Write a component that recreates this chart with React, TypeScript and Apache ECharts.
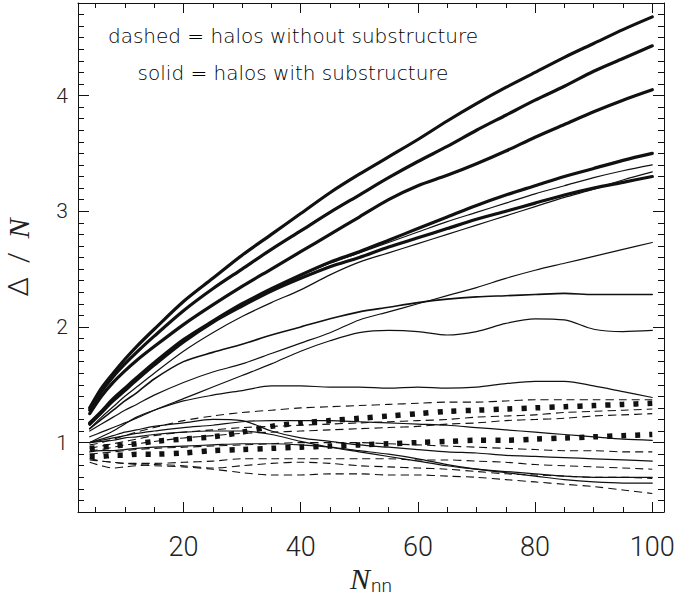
import React, { useEffect, useRef } from "react";
import * as echarts from "echarts";

// Nearest-neighbour count samples
const XS = [4, 6, 8, 10, 12, 15, 20, 25, 30, 35, 40, 45, 50, 55, 60, 65, 70, 75, 80, 85, 90, 95, 100];

// Thick solid (halos with substructure)
const A = [1.30, 1.47, 1.60, 1.72, 1.83, 1.98, 2.22, 2.42, 2.62, 2.80, 2.98, 3.16, 3.32, 3.47, 3.62, 3.78, 3.93, 4.07, 4.20, 4.33, 4.45, 4.57, 4.68];
const B = [1.28, 1.44, 1.57, 1.68, 1.78, 1.92, 2.14, 2.33, 2.50, 2.67, 2.83, 2.99, 3.14, 3.29, 3.43, 3.56, 3.70, 3.83, 3.96, 4.08, 4.21, 4.32, 4.43];
const C = [1.25, 1.40, 1.52, 1.62, 1.71, 1.83, 2.02, 2.19, 2.35, 2.50, 2.65, 2.80, 2.95, 3.10, 3.22, 3.31, 3.41, 3.52, 3.64, 3.75, 3.86, 3.96, 4.05];
const D = [1.17, 1.27, 1.38, 1.47, 1.56, 1.69, 1.89, 2.05, 2.20, 2.33, 2.45, 2.56, 2.65, 2.75, 2.85, 2.95, 3.05, 3.14, 3.22, 3.30, 3.37, 3.44, 3.50];
const E = [1.16, 1.26, 1.36, 1.45, 1.54, 1.67, 1.87, 2.04, 2.18, 2.31, 2.42, 2.52, 2.60, 2.69, 2.77, 2.85, 2.93, 3.00, 3.07, 3.14, 3.20, 3.25, 3.30];
// Thin solid
const F = [1.15, 1.25, 1.36, 1.45, 1.54, 1.67, 1.87, 2.04, 2.19, 2.32, 2.44, 2.55, 2.64, 2.73, 2.82, 2.91, 2.99, 3.07, 3.15, 3.22, 3.29, 3.35, 3.40];
const G = [1.12, 1.22, 1.31, 1.40, 1.48, 1.60, 1.79, 1.95, 2.09, 2.21, 2.32, 2.45, 2.56, 2.64, 2.72, 2.80, 2.88, 2.96, 3.04, 3.12, 3.19, 3.27, 3.34];
const H = [1.10, 1.16, 1.22, 1.28, 1.33, 1.41, 1.52, 1.61, 1.68, 1.77, 1.86, 1.95, 2.06, 2.13, 2.20, 2.27, 2.34, 2.42, 2.49, 2.55, 2.61, 2.67, 2.73];
const I = [1.12, 1.20, 1.28, 1.36, 1.43, 1.55, 1.70, 1.78, 1.85, 1.93, 2.00, 2.07, 2.13, 2.17, 2.21, 2.24, 2.26, 2.27, 2.28, 2.29, 2.28, 2.28, 2.28];
const J = [1.05, 1.09, 1.13, 1.17, 1.21, 1.28, 1.38, 1.48, 1.58, 1.68, 1.79, 1.88, 1.95, 1.97, 1.96, 1.93, 1.96, 2.03, 2.07, 2.06, 1.98, 1.96, 1.97];
const K = [1.00, 1.05, 1.10, 1.16, 1.22, 1.28, 1.36, 1.41, 1.45, 1.49, 1.49, 1.48, 1.48, 1.47, 1.48, 1.47, 1.48, 1.51, 1.53, 1.53, 1.49, 1.44, 1.39];
const S1 = [1.00, 1.02, 1.04, 1.06, 1.08, 1.10, 1.13, 1.15, 1.18, 1.19, 1.19, 1.19, 1.18, 1.17, 1.16, 1.15, 1.13, 1.11, 1.09, 1.07, 1.05, 1.03, 1.02];
const S2 = [1.00, 1.03, 1.06, 1.09, 1.11, 1.14, 1.17, 1.20, 1.19, 1.10, 1.04, 1.01, 0.98, 0.96, 0.94, 0.92, 0.91, 0.89, 0.88, 0.87, 0.86, 0.85, 0.84];
const S3 = [1.00, 1.01, 1.02, 1.04, 1.05, 1.07, 1.09, 1.10, 1.10, 1.07, 1.01, 0.96, 0.92, 0.88, 0.84, 0.80, 0.77, 0.75, 0.73, 0.71, 0.70, 0.70, 0.70];
const S4 = [0.92, 0.93, 0.93, 0.94, 0.95, 0.96, 0.97, 0.98, 0.99, 0.99, 0.98, 0.96, 0.93, 0.90, 0.86, 0.81, 0.77, 0.74, 0.71, 0.68, 0.66, 0.65, 0.65];
// Thick dotted
const T1 = [0.95, 0.96, 0.97, 0.98, 0.99, 1.01, 1.03, 1.05, 1.09, 1.14, 1.17, 1.19, 1.21, 1.23, 1.25, 1.27, 1.28, 1.29, 1.30, 1.31, 1.32, 1.33, 1.34];
const T2 = [0.88, 0.88, 0.89, 0.89, 0.90, 0.90, 0.91, 0.93, 0.94, 0.95, 0.96, 0.97, 0.98, 0.99, 1.00, 1.01, 1.02, 1.02, 1.03, 1.04, 1.05, 1.06, 1.07];
// Thin dashed (halos without substructure)
const Da = [0.98, 1.00, 1.03, 1.06, 1.09, 1.13, 1.19, 1.23, 1.26, 1.28, 1.30, 1.31, 1.32, 1.33, 1.34, 1.35, 1.35, 1.36, 1.37, 1.37, 1.37, 1.37, 1.37];
const Db = [0.95, 0.97, 0.99, 1.01, 1.03, 1.06, 1.09, 1.11, 1.13, 1.14, 1.15, 1.16, 1.17, 1.18, 1.19, 1.20, 1.22, 1.23, 1.24, 1.26, 1.27, 1.28, 1.29];
const Dc = [0.93, 0.94, 0.96, 0.98, 0.99, 1.01, 1.04, 1.06, 1.08, 1.09, 1.10, 1.11, 1.12, 1.13, 1.14, 1.16, 1.17, 1.19, 1.20, 1.21, 1.23, 1.24, 1.25];
const Dd = [0.90, 0.91, 0.92, 0.93, 0.94, 0.95, 0.96, 0.97, 0.98, 0.99, 1.00, 1.00, 1.00, 0.99, 0.98, 0.97, 0.96, 0.95, 0.94, 0.93, 0.93, 0.92, 0.92];
const De = [0.85, 0.84, 0.83, 0.82, 0.82, 0.82, 0.83, 0.84, 0.86, 0.86, 0.86, 0.86, 0.86, 0.86, 0.85, 0.85, 0.84, 0.83, 0.81, 0.80, 0.79, 0.78, 0.77];
const Df = [0.83, 0.80, 0.78, 0.79, 0.80, 0.81, 0.80, 0.78, 0.80, 0.82, 0.83, 0.82, 0.80, 0.79, 0.78, 0.77, 0.75, 0.73, 0.72, 0.71, 0.70, 0.70, 0.69];
const Dg = [0.86, 0.84, 0.83, 0.82, 0.81, 0.80, 0.79, 0.77, 0.74, 0.72, 0.72, 0.73, 0.73, 0.72, 0.72, 0.71, 0.70, 0.68, 0.66, 0.64, 0.62, 0.59, 0.56];

const THICK = [A, B, C, D, E];
const THIN = [F, G, H, J, K, S1, S2, S3, S4];
const MEDIUM = [I];
const DOTTED = [T1, T2];
const DASHED = [Da, Db, Dc, Dd, De, Df, Dg];

const X_MAJOR = [20, 40, 60, 80, 100];
const X_MINOR = [5, 10, 15, 25, 30, 35, 45, 50, 55, 65, 70, 75, 85, 90, 95];
const Y_MAJOR = [1, 2, 3, 4];
const Y_MINOR = [0.5, 0.6, 0.7, 0.8, 0.9, 1.1, 1.2, 1.3, 1.4, 1.5, 1.6, 1.7, 1.8, 1.9, 2.1, 2.2, 2.3, 2.4, 2.5, 2.6, 2.7, 2.8, 2.9, 3.1, 3.2, 3.3, 3.4, 3.5, 3.6, 3.7, 3.8, 3.9, 4.1, 4.2, 4.3, 4.4, 4.5, 4.6, 4.7];

const NOTE_1 = "dashed = halos without substructure";
const NOTE_2 = "solid = halos with substructure";

const INK = "#111";
const TXT = "#222";

function pts(v: number[]) {
  return XS.map((x, i) => [x, v[i]]);
}

export default function App() {
  const ref = useRef<HTMLDivElement>(null);
  useEffect(() => {
    if (!ref.current) return;
    const chart = echarts.init(ref.current, undefined, { renderer: "svg" });
    const line = { lineStyle: { color: INK, width: 1 } };
    const xBase = { type: "value", min: 2, max: 102, gridIndex: 0, offset: 0, splitLine: { show: false } } as any;
    const yBase = { type: "value", min: 0.4, max: 4.8, gridIndex: 0, offset: 0, splitLine: { show: false } } as any;
    const series: any[] = [];
    const add = (v: number[], width: number, type: any, cap = "round") => {
      series.push({
        type: "line",
        data: pts(v),
        showSymbol: false,
        smooth: 0.3,
        lineStyle: { color: INK, width, type, cap, join: "round" },
        silent: true,
      });
    };
    THICK.forEach((v) => add(v, 3.2, "solid"));
    MEDIUM.forEach((v) => add(v, 1.6, "solid"));
    THIN.forEach((v) => add(v, 1.2, "solid"));
    DOTTED.forEach((v) => add(v, 5.5, [5, 9], "butt"));
    DASHED.forEach((v) => add(v, 1.1, [8, 5], "butt"));

    chart.setOption({
      animation: false,
      backgroundColor: "#fff",
      grid: { left: 78, top: 3, width: 586, height: 509, containLabel: false, outerBoundsMode: "none" },
      xAxis: [
        {
          ...xBase,
          position: "bottom",
          axisLine: { show: true, onZero: false, ...line },
          axisTick: { show: true, inside: true, length: 10, customValues: X_MAJOR, ...line },
          axisLabel: {
            show: true,
            inside: false,
            customValues: X_MAJOR,
            fontSize: 27,
            fontFamily: "Roboto",
            fontWeight: 300,
            color: TXT,
            margin: 21,
          },
          name: "{n|N}{s|nn}",
          nameLocation: "middle",
          nameGap: 51,
          nameMoveOverlap: false,
          nameTextStyle: {
            rich: {
              n: { fontFamily: "Liberation Serif", fontStyle: "italic", fontSize: 30, color: TXT, verticalAlign: "top", lineHeight: 30 },
              s: { fontFamily: "Roboto", fontWeight: 300, fontSize: 19, color: TXT, verticalAlign: "bottom", lineHeight: 32, padding: [0, 0, 0, 1] },
            },
          },
        },
        {
          ...xBase,
          position: "bottom",
          axisLine: { show: false, onZero: false },
          axisTick: { show: true, inside: true, length: 5, customValues: X_MINOR, ...line },
          axisLabel: { show: false },
        },
        {
          ...xBase,
          position: "top",
          axisLine: { show: true, onZero: false, ...line },
          axisTick: { show: true, inside: true, length: 10, customValues: X_MAJOR, ...line },
          axisLabel: { show: false },
        },
        {
          ...xBase,
          position: "top",
          axisLine: { show: false, onZero: false },
          axisTick: { show: true, inside: true, length: 5, customValues: X_MINOR, ...line },
          axisLabel: { show: false },
        },
      ],
      yAxis: [
        {
          ...yBase,
          position: "left",
          axisLine: { show: true, onZero: false, ...line },
          axisTick: { show: true, inside: true, length: 11, customValues: Y_MAJOR, ...line },
          axisLabel: {
            show: true,
            inside: false,
            customValues: Y_MAJOR,
            fontSize: 21,
            fontFamily: "Roboto",
            fontWeight: 300,
            color: TXT,
            margin: 10,
          },
          name: "{d|Δ}{s|  /  }{n|N}",
          nameLocation: "middle",
          nameRotate: 90,
          nameGap: 45,
          nameMoveOverlap: false,
          nameTextStyle: {
            rich: {
              d: { fontFamily: "Roboto", fontWeight: 300, fontSize: 28, color: TXT },
              s: { fontFamily: "Roboto", fontWeight: 300, fontSize: 28, color: TXT },
              n: { fontFamily: "Liberation Serif", fontStyle: "italic", fontSize: 30, color: TXT },
            },
          },
        },
        {
          ...yBase,
          position: "left",
          axisLine: { show: false, onZero: false },
          axisTick: { show: true, inside: true, length: 6, customValues: Y_MINOR, ...line },
          axisLabel: { show: false },
        },
        {
          ...yBase,
          position: "right",
          axisLine: { show: true, onZero: false, ...line },
          axisTick: { show: true, inside: true, length: 11, customValues: Y_MAJOR, ...line },
          axisLabel: { show: false },
        },
        {
          ...yBase,
          position: "right",
          axisLine: { show: false, onZero: false },
          axisTick: { show: true, inside: true, length: 6, customValues: Y_MINOR, ...line },
          axisLabel: { show: false },
        },
      ],
      series,
      graphic: [
        {
          type: "text",
          x: 293,
          y: 36,
          style: { text: NOTE_1, font: "300 20px 'DejaVu Sans'", fill: "#000", textAlign: "center", textVerticalAlign: "middle" },
        },
        {
          type: "text",
          x: 293,
          y: 73,
          style: { text: NOTE_2, font: "300 20px 'DejaVu Sans'", fill: "#000", textAlign: "center", textVerticalAlign: "middle" },
        },
      ],
    });
    return () => chart.dispose();
  }, []);
  return (
    <div
      ref={ref}
      style={{ position: "absolute", left: 0, top: 0, width: 678, height: 596, background: "#fff" }}
    />
  );
}
